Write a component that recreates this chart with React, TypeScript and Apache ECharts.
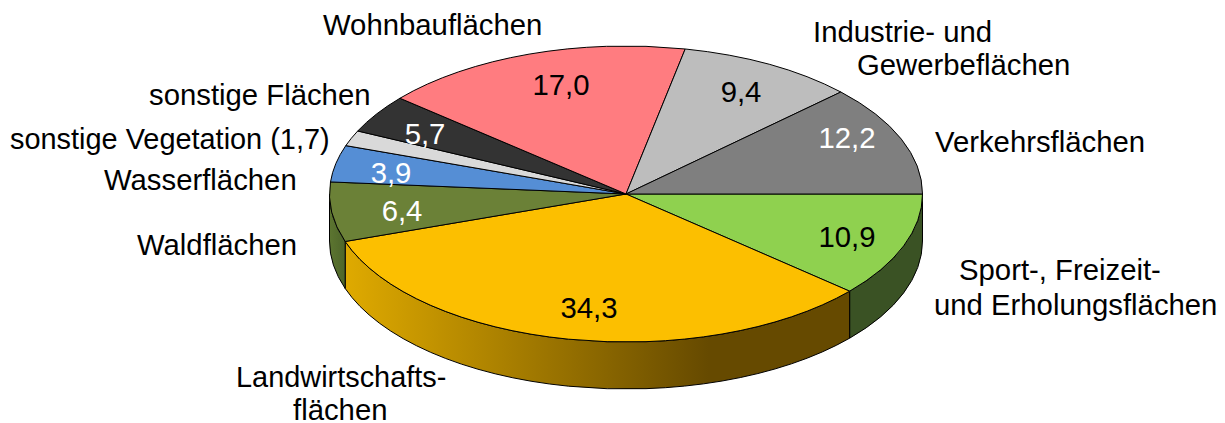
import React, { useEffect, useRef } from "react";
import * as echarts from "echarts";

// Categories clockwise from 3 o'clock
const categories = [
  "Sport-, Freizeit- und Erholungsflächen",
  "Landwirtschaftsflächen",
  "Waldflächen",
  "Wasserflächen",
  "sonstige Vegetation",
  "sonstige Flächen",
  "Wohnbauflächen",
  "Industrie- und Gewerbeflächen",
  "Verkehrsflächen",
];
// Slice sizes as drawn in the picture (the slice for "sonstige Flächen" is smaller than its printed 5,7)
const sliceShares = [11.4, 33.4, 6.5, 4.0, 1.7, 4.2, 17.0, 9.7, 12.1];
const valueLabels = ["10,9", "34,3", "6,4", "3,9", "", "5,7", "17,0", "9,4", "12,2"];
const topColors = ["#8FD14F", "#FCBF00", "#6B8137", "#558ED5", "#D9D9D9", "#333333", "#FF7C80", "#BDBDBD", "#7F7F7F"];
const valueColors = ["#000", "#000", "#fff", "#fff", "#fff", "#fff", "#000", "#000", "#fff"];

// Layout
const CX = 626;
const CY = 194;
const RX = 296.5;
const RY = 148;
const DEPTH = 47;
const FONT = "'Liberation Sans', Arial, sans-serif";
const FONT_SIZE = 29.3;
const NARROW_FONT_SIZE = 28.9;

const valueLabelCenters: [number, number][] = [
  [847, 236], [589, 307], [402, 210], [391, 172], [0, 0], [425, 133], [561, 84], [741, 91], [847, 137],
];
const categoryLabels: [string, number, number, number][] = [
  ["Wohnbauflächen", 323, 24, FONT_SIZE],
  ["Industrie- und", 813, 31, FONT_SIZE],
  ["Gewerbeflächen", 857, 64, FONT_SIZE],
  ["Verkehrsflächen", 935, 141, FONT_SIZE],
  ["Sport-, Freizeit-", 959, 269, FONT_SIZE],
  ["und Erholungsflächen", 934, 304, FONT_SIZE],
  ["Landwirtschafts-", 236, 377, NARROW_FONT_SIZE],
  ["flächen", 293, 409, FONT_SIZE],
  ["Waldflächen", 137, 244, FONT_SIZE],
  ["Wasserflächen", 104, 179, FONT_SIZE],
  ["sonstige Vegetation (1,7)", 10, 139, NARROW_FONT_SIZE],
  ["sonstige Flächen", 149, 94, FONT_SIZE],
];

const total = sliceShares.reduce((a, b) => a + b, 0);
const boundaries: number[] = [0];
sliceShares.forEach((v, i) => boundaries.push(boundaries[i] + (v / total) * 360));

const pt = (deg: number, dy = 0) => {
  const t = (deg * Math.PI) / 180;
  return [CX + RX * Math.cos(t), CY + RY * Math.sin(t) + dy];
};
const topPath = (a: number, b: number) => {
  const p0 = pt(a);
  const p1 = pt(b);
  const large = b - a > 180 ? 1 : 0;
  return `M${CX} ${CY}L${p0[0]} ${p0[1]}A${RX} ${RY} 0 ${large} 1 ${p1[0]} ${p1[1]}Z`;
};
const wallPath = (a: number, b: number) => {
  const p0 = pt(a);
  const p1 = pt(b);
  const q0 = pt(a, DEPTH);
  const q1 = pt(b, DEPTH);
  return `M${p0[0]} ${p0[1]}A${RX} ${RY} 0 0 1 ${p1[0]} ${p1[1]}L${q1[0]} ${q1[1]}A${RX} ${RY} 0 0 0 ${q0[0]} ${q0[1]}Z`;
};
const hGrad = (stops: [number, string][]) => ({
  type: "linear", x: 0, y: 0, x2: 1, y2: 0,
  colorStops: stops.map(([offset, color]) => ({ offset, color })),
});
const wallFills: Record<number, any> = {
  0: "#3A5224",
  1: hGrad([[0, "#DFAA00"], [0.72, "#664A00"], [1, "#664A00"]]),
  2: hGrad([[0, "#5C7530"], [1, "#4E652A"]]),
};

export default function App() {
  const ref = useRef<HTMLDivElement>(null);
  useEffect(() => {
    const chart = echarts.init(ref.current!, undefined, { renderer: "svg" });
    const text = (t: string, x: number, y: number, fill: string, align: string, fontSize = FONT_SIZE) => ({
      type: "text", x, y, silent: true, z: 100,
      style: { text: t, fill, fontSize, lineHeight: 24, fontFamily: FONT, align, verticalAlign: "middle" },
    });
    chart.setOption({
      animation: false,
      backgroundColor: "#fff",
      series: [
        {
          type: "custom", coordinateSystem: "none", silent: true, name: "Wände", z: 1,
          data: sliceShares,
          renderItem: (p: any) => {
            const i = p.dataIndex;
            const a = boundaries[i];
            const b = Math.min(boundaries[i + 1], 180);
            if (a >= 180) return { type: "group", children: [] };
            return {
              type: "path",
              shape: { pathData: wallPath(a, b) },
              style: { fill: wallFills[i], stroke: "#000", lineWidth: 1, lineJoin: "round" },
            };
          },
        },
        {
          type: "custom", coordinateSystem: "none", silent: true, name: "Flächen", z: 2,
          data: sliceShares,
          renderItem: (p: any) => {
            const i = p.dataIndex;
            return {
              type: "path",
              shape: { pathData: topPath(boundaries[i], boundaries[i + 1]) },
              style: { fill: topColors[i], stroke: "#000", lineWidth: 1, lineJoin: "round" },
            };
          },
        },
      ],
      graphic: [
        ...valueLabels.map((t, i) =>
          t ? text(t, valueLabelCenters[i][0], valueLabelCenters[i][1], valueColors[i], "center") : null
        ).filter(Boolean),
        ...categoryLabels.map(([t, x, y, size]) => text(t, x, y, "#000", "left", size)),
      ],
    });
    return () => chart.dispose();
  }, []);
  return <div ref={ref} aria-label={categories.join(", ")} style={{ position: "fixed", left: 0, top: 0, width: 1225, height: 423 }} />;
}
